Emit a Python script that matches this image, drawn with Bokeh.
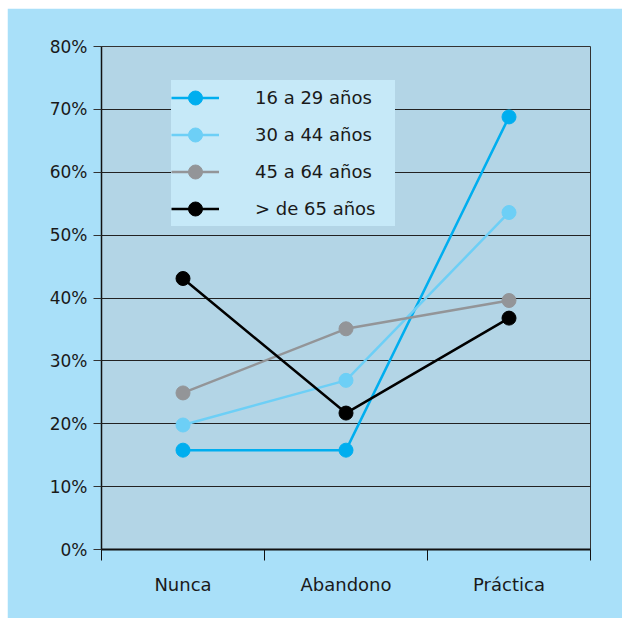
from bokeh.plotting import figure
from bokeh.models import FixedTicker, NumeralTickFormatter, Legend, LegendItem, Range1d
from bokeh.embed import file_html
from bokeh.resources import INLINE

categories = ["Nunca", "Abandono", "Práctica"]
series_names = ["16 a 29 años", "30 a 44 años", "45 a 64 años", "> de 65 años"]
s16_29 = [15.8, 15.8, 68.8]
s30_44 = [19.8, 26.9, 53.6]
s45_64 = [24.9, 35.1, 39.6]
s65_plus = [43.1, 21.7, 36.8]
y_ticks = [0, 10, 20, 30, 40, 50, 60, 70, 80]
colors = ["#00aeef", "#6dcff6", "#939598", "#000000"]

series = [s16_29, s30_44, s45_64, s65_plus]
xs = [i + 0.5 for i in range(len(categories))]

FONT = "DejaVu Sans"
TXT = "#1a1a1a"

p = figure(width=615, height=610, output_backend="svg", toolbar_location=None,
           x_range=Range1d(0, len(categories)), y_range=Range1d(0, 0.8),
           min_border_left=94, min_border_right=32, min_border_top=38, min_border_bottom=69)
p.margin = (8, 0, 0, 7)

p.border_fill_color = "#a9e0f9"
p.background_fill_color = "#b3d5e6"
p.outline_line_color = "#333333"
p.outline_line_width = 1

items = []
for name, vals, col in zip(series_names, series, colors):
    ys = [v / 100 for v in vals]
    lr = p.line(xs, ys, line_color=col, line_width=2.5)
    sr = p.scatter(xs, ys, size=14, fill_color=col, line_color=col)
    items.append(LegendItem(label=name, renderers=[lr, sr]))

# grid
p.xgrid.grid_line_color = None
p.ygrid.grid_line_color = "#222222"
p.ygrid.grid_line_width = 1

# y axis
p.yaxis.ticker = FixedTicker(ticks=[t / 100 for t in y_ticks])
p.yaxis.formatter = NumeralTickFormatter(format="0%")
p.yaxis.axis_line_color = "#111111"
p.yaxis.axis_line_width = 1.5
p.yaxis.major_tick_out = 8
p.yaxis.major_tick_in = 0
p.yaxis.major_tick_line_color = "#333333"
p.yaxis.minor_tick_line_color = None
p.yaxis.major_label_standoff = 6
p.yaxis.major_label_text_font = FONT
p.yaxis.major_label_text_font_size = "17px"
p.yaxis.major_label_text_color = TXT

# x axis
p.xaxis.ticker = FixedTicker(ticks=xs, minor_ticks=list(range(len(categories) + 1)))
p.xaxis.major_label_overrides = {x: c for x, c in zip(xs, categories)}
p.xaxis.axis_line_color = "#111111"
p.xaxis.axis_line_width = 2
p.xaxis.major_tick_out = 0
p.xaxis.major_tick_in = 0
p.xaxis.minor_tick_out = 11
p.xaxis.minor_tick_in = 0
p.xaxis.minor_tick_line_color = "#111111"
p.xaxis.major_label_standoff = 13
p.xaxis.major_label_text_font = FONT
p.xaxis.major_label_text_font_size = "18px"
p.xaxis.major_label_text_color = TXT

legend = Legend(items=items, location=(70, 323))
legend.background_fill_color = "#c6e9f8"
legend.background_fill_alpha = 1
legend.border_line_color = None
legend.label_text_font = FONT
legend.label_text_font_size = "18px"
legend.label_text_color = TXT
legend.glyph_width = 48
legend.glyph_height = 35
legend.label_height = 35
legend.label_width = 140
legend.spacing = 2
legend.padding = 12
legend.margin = 0
legend.label_standoff = 36
p.add_layout(legend)

open("out.html", "w").write(file_html(p, INLINE))
